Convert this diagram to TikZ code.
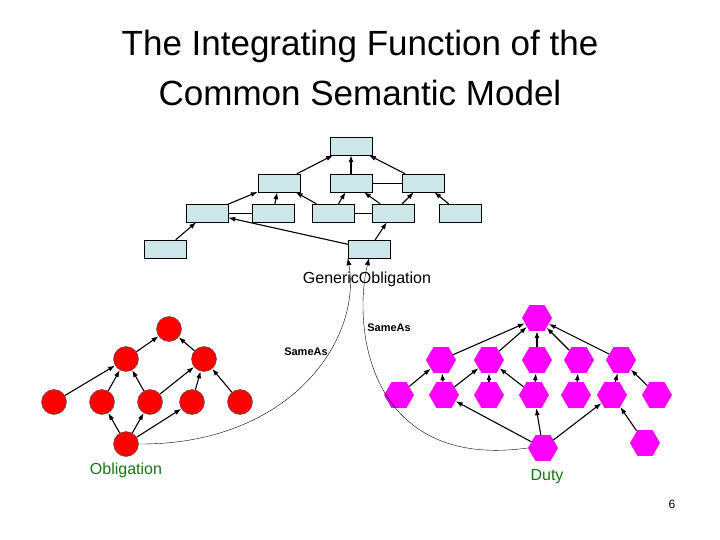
\documentclass[tikz,border=0pt]{standalone}
\usepackage{fontspec}
\setmainfont{Liberation Sans}
\usetikzlibrary{arrows.meta,positioning,shapes.geometric}
\definecolor{boxblue}{RGB}{204,230,234}
\definecolor{labelgreen}{RGB}{20,120,20}
\definecolor{hexpink}{RGB}{255,0,255}

\begin{document}
\begin{tikzpicture}
              [x=1pt,y=-1pt,>={Latex[length=7pt,width=5pt]},
                box/.style={rectangle,draw,fill=boxblue,minimum width=42pt,minimum height=18pt,inner sep=0pt},
                ball/.style={circle,draw=black!70,fill=red,minimum size=25pt,inner sep=0pt},
                hex/.style={regular polygon,regular polygon sides=6,draw=none,fill=hexpink,minimum size=30pt,inner sep=0pt},
                link/.style={->,line width=1.1pt},
                tag/.style={font=\fontsize{16}{18}\selectfont},
                small/.style={font=\fontsize{11}{12}\selectfont\bfseries}]
              \useasboundingbox (0,0) rectangle (720,540);
              \node[align=center,font=\fontsize{35}{50}\selectfont] (title) at (360,68) {The Integrating Function of the\\Common Semantic Model};
              % common semantic model
              \node[box] (t) at (351,146) {};
              \node[box] (a) at (279,183) {};
              \node[box] (b) at (351,183) {};
              \node[box] (c) at (423,183) {};
              \node[box] (d) at (207,213) {};
              \node[box] (e) at (273,213) {};
              \node[box] (f) at (333,213) {};
              \node[box] (g) at (393,213) {};
              \node[box] (h) at (460,213) {};
              \node[box] (i) at (165,249) {};
              \node[box] (j) at (369,249) {};
              \node[tag] (generic) at (367,279) {GenericObligation};
              \foreach \from/\to in {a/t,b/t,c/t,d/a,e/a,f/a,f/b,g/b,g/c,h/c,i/d,j/d,j/g}
              \draw[link] (\from) -- (\to);
              \draw (b) -- (c);
              \draw (d) -- (e);
              \draw (f) -- (g);
              % obligation
              \node[ball] (r0) at (169,329) {};
              \node[ball] (r1) at (126,359) {};
              \node[ball] (r2) at (204,359) {};
              \node[ball] (r3) at (54,402) {};
              \node[ball] (r4) at (102,402) {};
              \node[ball] (r5) at (150,402) {};
              \node[ball] (r6) at (192,402) {};
              \node[ball] (r7) at (240,402) {};
              \node[ball] (ob) at (126,444) {};
              \node[tag,text=labelgreen] (oblabel) at (126,470) {Obligation};
              \foreach \from/\to in {r1/r0,r2/r0,r3/r1,r4/r1,r5/r1,r5/r2,r6/r2,r7/r2,ob/r4,ob/r5,ob/r6}
              \draw[link] (\from) -- (\to);
              % duty
              \node[hex] (m0) at (537,318) {};
              \node[hex] (n1) at (441,360) {};
              \node[hex] (n2) at (489,360) {};
              \node[hex] (n3) at (537,360) {};
              \node[hex] (n4) at (579,360) {};
              \node[hex] (n5) at (621,360) {};
              \node[hex] (p1) at (399,395) {};
              \node[hex] (p2) at (444,395) {};
              \node[hex] (p3) at (489,395) {};
              \node[hex] (p4) at (534,395) {};
              \node[hex] (p5) at (576,395) {};
              \node[hex] (p6) at (612,395) {};
              \node[hex] (p7) at (657,395) {};
              \node[hex] (du) at (543,448) {};
              \node[hex] (q) at (645,443) {};
              \node[tag,text=labelgreen] (dulabel) at (547,477) {Duty};
              \foreach \from/\to in {n1/m0,n2/m0,n3/m0,n4/m0,n5/m0,p1/n1,p2/n1,p2/n2,p3/n2,p4/n2,p4/n3,p5/n4,p6/n5,p7/n5,du/p2,du/p4,du/p6,q/p6}
              \draw[link] (\from) -- (\to);
              % same-as links
              \draw[->] (ob.east) .. controls (290,445) and (362,340) .. (j.south west);
              \draw[->] (du.west) .. controls (370,470) and (352,330) .. (j.south);
              \node[small] (same1) at (306,352) {SameAs};
              \node[small] (same2) at (389,328) {SameAs};
              \node[font=\fontsize{12}{14}\selectfont] (page) at (672,504) {6};
            \end{tikzpicture}
\end{document}
